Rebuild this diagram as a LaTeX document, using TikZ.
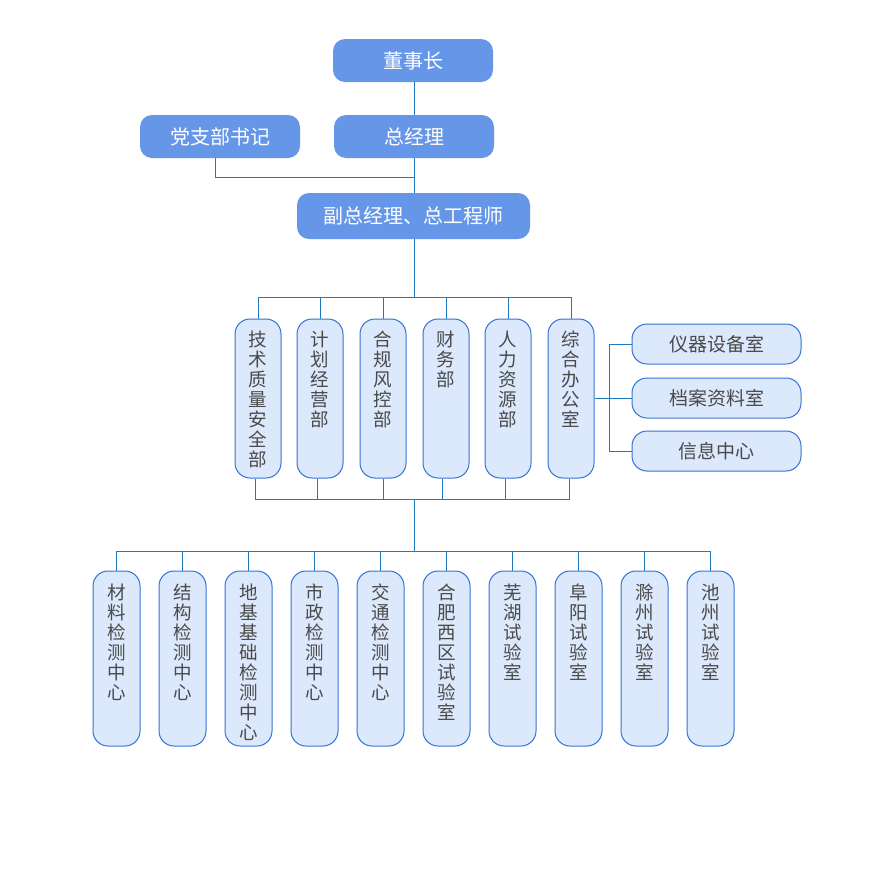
\documentclass[tikz,border=0pt]{standalone}
\usepackage{fontspec}
\setmainfont{Noto Sans CJK SC}
\usetikzlibrary{calc}
\definecolor{topfill}{HTML}{6696E8}
\definecolor{lfill}{HTML}{DCE8FB}
\definecolor{lborder}{HTML}{3574D2}
\definecolor{connc}{HTML}{1F7BBF}
\definecolor{txt}{HTML}{4A4A4A}
\begin{document}
\begin{tikzpicture}[x=1pt,y=-1pt,
 topbox/.style={fill=topfill, draw=none, rounded corners=12pt, text=white, font=\fontsize{20}{24}\selectfont, inner sep=0pt, minimum height=43pt},
 vbox/.style={fill=lfill, draw=lborder, line width=1pt, rounded corners=15pt, inner sep=0pt},
 midbox/.style={vbox, minimum width=46pt, minimum height=159pt},
 lowbox/.style={vbox, minimum width=47pt, minimum height=175pt},
 vtext/.style={anchor=north, text=txt, font=\fontsize{18.5}{20}\selectfont, align=center, inner sep=0pt},
 hbox/.style={fill=lfill, draw=lborder, line width=1pt, rounded corners=15pt, minimum width=169pt, minimum height=40pt, inner sep=0pt, text=txt, font=\fontsize{19}{22}\selectfont},
 conn/.style={draw=connc, line width=0.9pt}
]
\useasboundingbox (0,0) rectangle (881,884);
\fill[white] (0,0) rectangle (881,884);

% top
\node[topbox, minimum width=160pt] (dsz) at (413,60.5) {董事长};
\node[topbox, minimum width=160pt] (dzb) at (220,136.5) {党支部书记};
\node[topbox, minimum width=160pt] (zjl) at (414,136.5) {总经理};
\node[topbox, minimum width=233pt, minimum height=46pt] (fz) at (413.5,216) {副总经理、总工程师};

\coordinate (j0) at (414,177);
\coordinate (bus1) at (414,297);
\coordinate (bus2) at (414,499);
\coordinate (bus3) at (414,551);
\coordinate (rj) at (609,399);

\draw[conn] (dsz.south -| j0) -- (zjl.north -| j0);
\draw[conn] (zjl.south -| j0) -- (fz.north -| j0);
\draw[conn] ([xshift=-5pt]dzb.south) |- (j0);
\draw[conn] (fz.south -| bus1) -- (bus1);

% middle row
\foreach \n/\x/\t in {t1/258/{技\\术\\质\\量\\安\\全\\部},
                      t2/320/{计\\划\\经\\营\\部},
                      t3/383/{合\\规\\风\\控\\部},
                      t4/446/{财\\务\\部},
                      t5/508/{人\\力\\资\\源\\部},
                      t6/571/{综\\合\\办\\公\\室}}{
  \node[midbox] (\n) at (\x,398.5) {};
  \node[vtext] (\n l) at ([yshift=-12.5pt]\n.north) {\t};
}
\draw[conn] (t1.north) -- (t1.north |- bus1) -- (t6.north |- bus1) -- (t6.north);
\foreach \n in {t2,t3,t4,t5}{
  \draw[conn] (\n.north) -- (\n.north |- bus1);
}
\draw[conn] ([xshift=-3pt]t1.south) -- ([xshift=-3pt]t1.south |- bus2) -- ([xshift=-2pt]t6.south |- bus2) -- ([xshift=-2pt]t6.south);
\draw[conn] ([xshift=-3pt]t2.south) -- ([xshift=-3pt]t2.south |- bus2);
\draw[conn] (t3.south) -- (t3.south |- bus2);
\draw[conn] ([xshift=-4pt]t4.south) -- ([xshift=-4pt]t4.south |- bus2);
\draw[conn] ([xshift=-3pt]t5.south) -- ([xshift=-3pt]t5.south |- bus2);
\draw[conn] (bus2) -- (bus3);

% right boxes
\node[hbox] (r1) at (716.5,344) {仪器设备室};
\node[hbox] (r2) at (716.5,398) {档案资料室};
\node[hbox] (r3) at (716.5,451) {信息中心};
\draw[conn] (t6.east) -- (t6.east -| rj);
\draw[conn] (r1.west) -- (r1.west -| rj) -- (r3.west -| rj) -- (r3.west);
\draw[conn] (r2.west) -- (r2.west -| rj);

% bottom row
\foreach \n/\x/\t in {b1/116.5/{材\\料\\检\\测\\中\\心},
                      b2/182.5/{结\\构\\检\\测\\中\\心},
                      b3/248.5/{地\\基\\基\\础\\检\\测\\中\\心},
                      b4/314.5/{市\\政\\检\\测\\中\\心},
                      b5/380.5/{交\\通\\检\\测\\中\\心},
                      b6/446.5/{合\\肥\\西\\区\\试\\验\\室},
                      b7/512.5/{芜\\湖\\试\\验\\室},
                      b8/578.5/{阜\\阳\\试\\验\\室},
                      b9/644.5/{滁\\州\\试\\验\\室},
                      b10/710.5/{池\\州\\试\\验\\室}}{
  \node[lowbox] (\n) at (\x,658.5) {};
  \node[vtext] (\n l) at ([yshift=-13pt]\n.north) {\t};
}
\draw[conn] (b1.north) -- (b1.north |- bus3) -- (b10.north |- bus3) -- (b10.north);
\foreach \n in {b2,b3,b4,b5,b6,b7,b8,b9}{
  \draw[conn] (\n.north) -- (\n.north |- bus3);
}
\end{tikzpicture}
\end{document}
